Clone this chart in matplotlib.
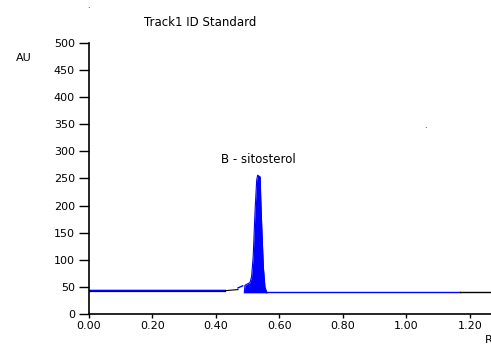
import numpy as np
import matplotlib
matplotlib.use("Agg")
import matplotlib.pyplot as plt

plt.rcParams['font.family'] = ['DejaVu Sans']

# baseline segments (Rf, AU)
base_black_x = [0.0, 0.43]
base_black_y = [42, 42]
base_blue_x = [0.0, 0.43]
base_blue_y = [44, 44]
pre_black_x = [0.43, 0.47]
pre_black_y = [43, 45]
pre_blue_x = [0.47, 0.485]
pre_blue_y = [48, 52]

# peak (B - sitosterol)
peak_x = [0.490, 0.492, 0.508, 0.513, 0.518, 0.524, 0.529, 0.532, 0.540,
          0.542, 0.545, 0.550, 0.555, 0.561]
peak_y = [39, 53, 58, 69, 106, 192, 247, 256, 253, 210, 161, 87, 50, 39]

post_blue_x = [0.561, 1.17]
post_blue_y = [41, 41]
post_black_x = [1.17, 1.27]
post_black_y = [41, 41]

yticks = [0, 50, 100, 150, 200, 250, 300, 350, 400, 450, 500]
xticks = [0.0, 0.2, 0.4, 0.6, 0.8, 1.0, 1.2]

fig = plt.figure(figsize=(4.91, 3.45), dpi=100)
ax = fig.add_axes([0.1807, 0.0899, 0.8193, 0.7855])

ax.plot(base_black_x, base_black_y, c='black', lw=1.6)
ax.plot(base_blue_x, base_blue_y, c='blue', lw=1.0)
ax.plot(pre_black_x, pre_black_y, c='black', lw=0.8)
ax.plot(pre_blue_x, pre_blue_y, c='blue', lw=1.0)
ax.fill_between(peak_x, 39, peak_y, color='blue', lw=0)
ax.plot(peak_x, peak_y, c='blue', lw=0.8)
ax.plot(post_blue_x, post_blue_y, c='blue', lw=1.0)
ax.plot(post_black_x, post_black_y, c='black', lw=1.0)

ax.set_xlim(0, 1.267)
ax.set_ylim(0, 500)
ax.set_xticks(xticks)
ax.set_xticklabels(["%.2f" % v for v in xticks])
ax.set_yticks(yticks)
ax.tick_params(axis='y', length=7, width=1, labelsize=8, pad=3)
ax.tick_params(axis='x', length=3, width=1, labelsize=8, pad=2)
for s in ['top', 'right']:
    ax.spines[s].set_visible(False)
for s in ['left', 'bottom']:
    ax.spines[s].set_linewidth(1.2)

fig.text(200/491, 1 - 23/345, "Track1 ID Standard", ha='center', va='center', fontsize=8.5)
fig.text(24/491, 1 - 58/345, "AU", ha='center', va='center', fontsize=8)
ax.text(0.535, 285, "B - sitosterol", ha='center', va='center', fontsize=8.5)
fig.text(485/491, 1 - 340/345, "Rf", ha='left', va='center', fontsize=8)
fig.text(88/491, 1 - 6/345, ".", ha='center', va='center', fontsize=6)
fig.text(425/491, 1 - 126/345, ".", ha='center', va='center', fontsize=6)

fig.savefig("out.png", dpi=100)
